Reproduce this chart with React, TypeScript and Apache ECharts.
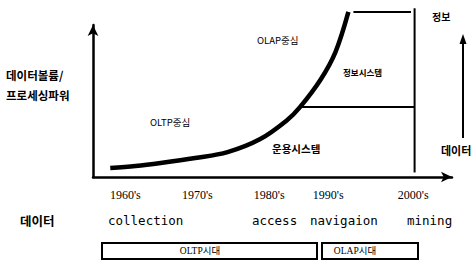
import React, { useEffect, useRef } from "react";
import * as echarts from "echarts";

// Decade ticks along the time axis
const decades = [1960, 1970, 1980, 1990, 2000];
const decadeLabels = ["1960's", "1970's", "1980's", "1990's", "2000's"];

// Growth curve: data volume / processing power over time
const curveYears = [1957.9, 1961.4, 1964.9, 1969.7, 1974.2, 1978.75, 1982.5, 1984.3, 1987.1, 1989.2, 1991.0];
const curveValues = [5.9, 7.2, 9.2, 12.5, 16.4, 25.0, 37.5, 46.1, 63.8, 82.2, 108.6];

// Boundary lines of the information-system area
const olapTopYears = [1991.7, 1999.7];
const olapTopValues = [108.6, 108.6];
const boundaryYears = [2000.2, 2000.2];
const boundaryValues = [111, 3];
const splitYears = [1984.3, 2000.2];
const splitValues = [46.1, 46.1];

// Text labels
const yTitle = ["데이터볼륨/", "프로세싱파워"];
const stageTitle = "데이터";
const stages = ["collection", "access", "navigaion", "mining"];
const eras = ["OLTP시대", "OLAP시대"];
const areaLabels = ["OLAP중심", "OLTP중심", "정보시스템", "운용시스템"];
const sideArrow = ["정보", "데이터"];

const KR = "'Noto Sans CJK KR', 'Noto Sans', sans-serif";
const SERIF = "'Liberation Serif', 'Noto Sans CJK KR', serif";
const MONO = "'DejaVu Sans Mono', 'Liberation Mono', monospace";

const zip = (xs: number[], ys: number[]) => xs.map((x, i) => [x, ys[i]]);

export default function App() {
  const ref = useRef<HTMLDivElement>(null);

  useEffect(() => {
    if (!ref.current) return;
    const chart = echarts.init(ref.current, undefined, { renderer: "svg" });

    const lineSeries = (data: number[][], width: number, smooth: boolean | number = false) => ({
      type: "line",
      data,
      smooth,
      symbol: "none",
      clip: false,
      silent: true,
      lineStyle: { color: "#000", width },
    });

    const stageX = [108, 252, 310, 407];
    const txt = (text: string, x: number, y: number, font: string, size: number, weight: string, align = "left") => ({
      type: "text",
      x,
      y,
      silent: true,
      style: {
        text,
        fill: "#000",
        font: `${weight} ${size}px ${font}`,
        align,
        verticalAlign: "middle",
      },
    });

    chart.setOption({
      animation: false,
      backgroundColor: "#fff",
      grid: { left: 93, right: 19, top: 25, bottom: 86 },
      xAxis: {
        type: "value",
        min: 1955.5,
        max: 2005.4,
        splitLine: { show: false },
        axisTick: { show: false },
        axisLine: {
          show: true,
          onZero: false,
          lineStyle: { color: "#000", width: 2.5 },
          symbol: ["none", "arrow"],
          symbolSize: [8, 11],
        },
        axisLabel: {
          customValues: decades,
          color: "#000",
          fontFamily: SERIF,
          fontSize: 12,
          margin: 12,
          formatter: (v: number) => {
            const i = decades.indexOf(v);
            const s = i >= 0 ? decadeLabels[i] : "";
            return v === 1990 ? `{shift|${s}}` : s;
          },
          rich: {
            shift: { padding: [0, 26, 0, 0], color: "#000", fontFamily: SERIF, fontSize: 12 },
          },
        },
      },
      yAxis: {
        type: "value",
        min: 0,
        max: 100,
        splitLine: { show: false },
        axisTick: { show: false },
        axisLabel: { show: false },
        axisLine: {
          show: true,
          onZero: false,
          lineStyle: { color: "#000", width: 2.5 },
          symbol: ["none", "arrow"],
          symbolSize: [8, 11],
        },
      },
      series: [
        lineSeries(zip(curveYears, curveValues), 4.5, 0.35),
        lineSeries(zip(olapTopYears, olapTopValues), 2),
        lineSeries(zip(boundaryYears, boundaryValues), 2),
        lineSeries(zip(splitYears, splitValues), 2),
      ],
      graphic: [
        txt(yTitle[0], 6, 75, KR, 11.5, "bold"),
        txt(yTitle[1], 6, 95, KR, 11.5, "bold"),
        txt(areaLabels[0], 257, 40, KR, 9.5, "normal"),
        txt(areaLabels[1], 150, 122, KR, 9.5, "normal"),
        txt(areaLabels[2], 343, 72, KR, 8.5, "bold"),
        txt(areaLabels[3], 272, 148, KR, 10.5, "bold"),
        txt(sideArrow[0], 432, 16, KR, 10, "bold"),
        txt(sideArrow[1], 441, 150, KR, 11, "bold"),
        {
          type: "line",
          silent: true,
          shape: { x1: 463, y1: 42, x2: 463, y2: 138 },
          style: { stroke: "#000", lineWidth: 2 },
        },
        {
          type: "polygon",
          silent: true,
          shape: { points: [[459.5, 44], [466.5, 44], [463, 34]] },
          style: { fill: "#000" },
        },
        txt(stageTitle, 20, 220, KR, 12.5, "bold"),
        ...stages.map((s, i) => txt(s, stageX[i], 220, MONO, 12.5, "normal")),
        {
          type: "rect",
          silent: true,
          shape: { x: 102, y: 243, width: 215, height: 16 },
          style: { fill: "#fff", stroke: "#000", lineWidth: 2 },
        },
        {
          type: "rect",
          silent: true,
          shape: { x: 322, y: 243, width: 96, height: 16 },
          style: { fill: "#fff", stroke: "#000", lineWidth: 2 },
        },
        txt(eras[0], 200, 251, SERIF, 9.5, "normal", "center"),
        txt(eras[1], 355, 251, SERIF, 9.5, "normal", "center"),
      ],
    });

    return () => chart.dispose();
  }, []);

  return (
    <div
      ref={ref}
      style={{ position: "fixed", left: 0, top: 0, width: 471, height: 263 }}
    />
  );
}
